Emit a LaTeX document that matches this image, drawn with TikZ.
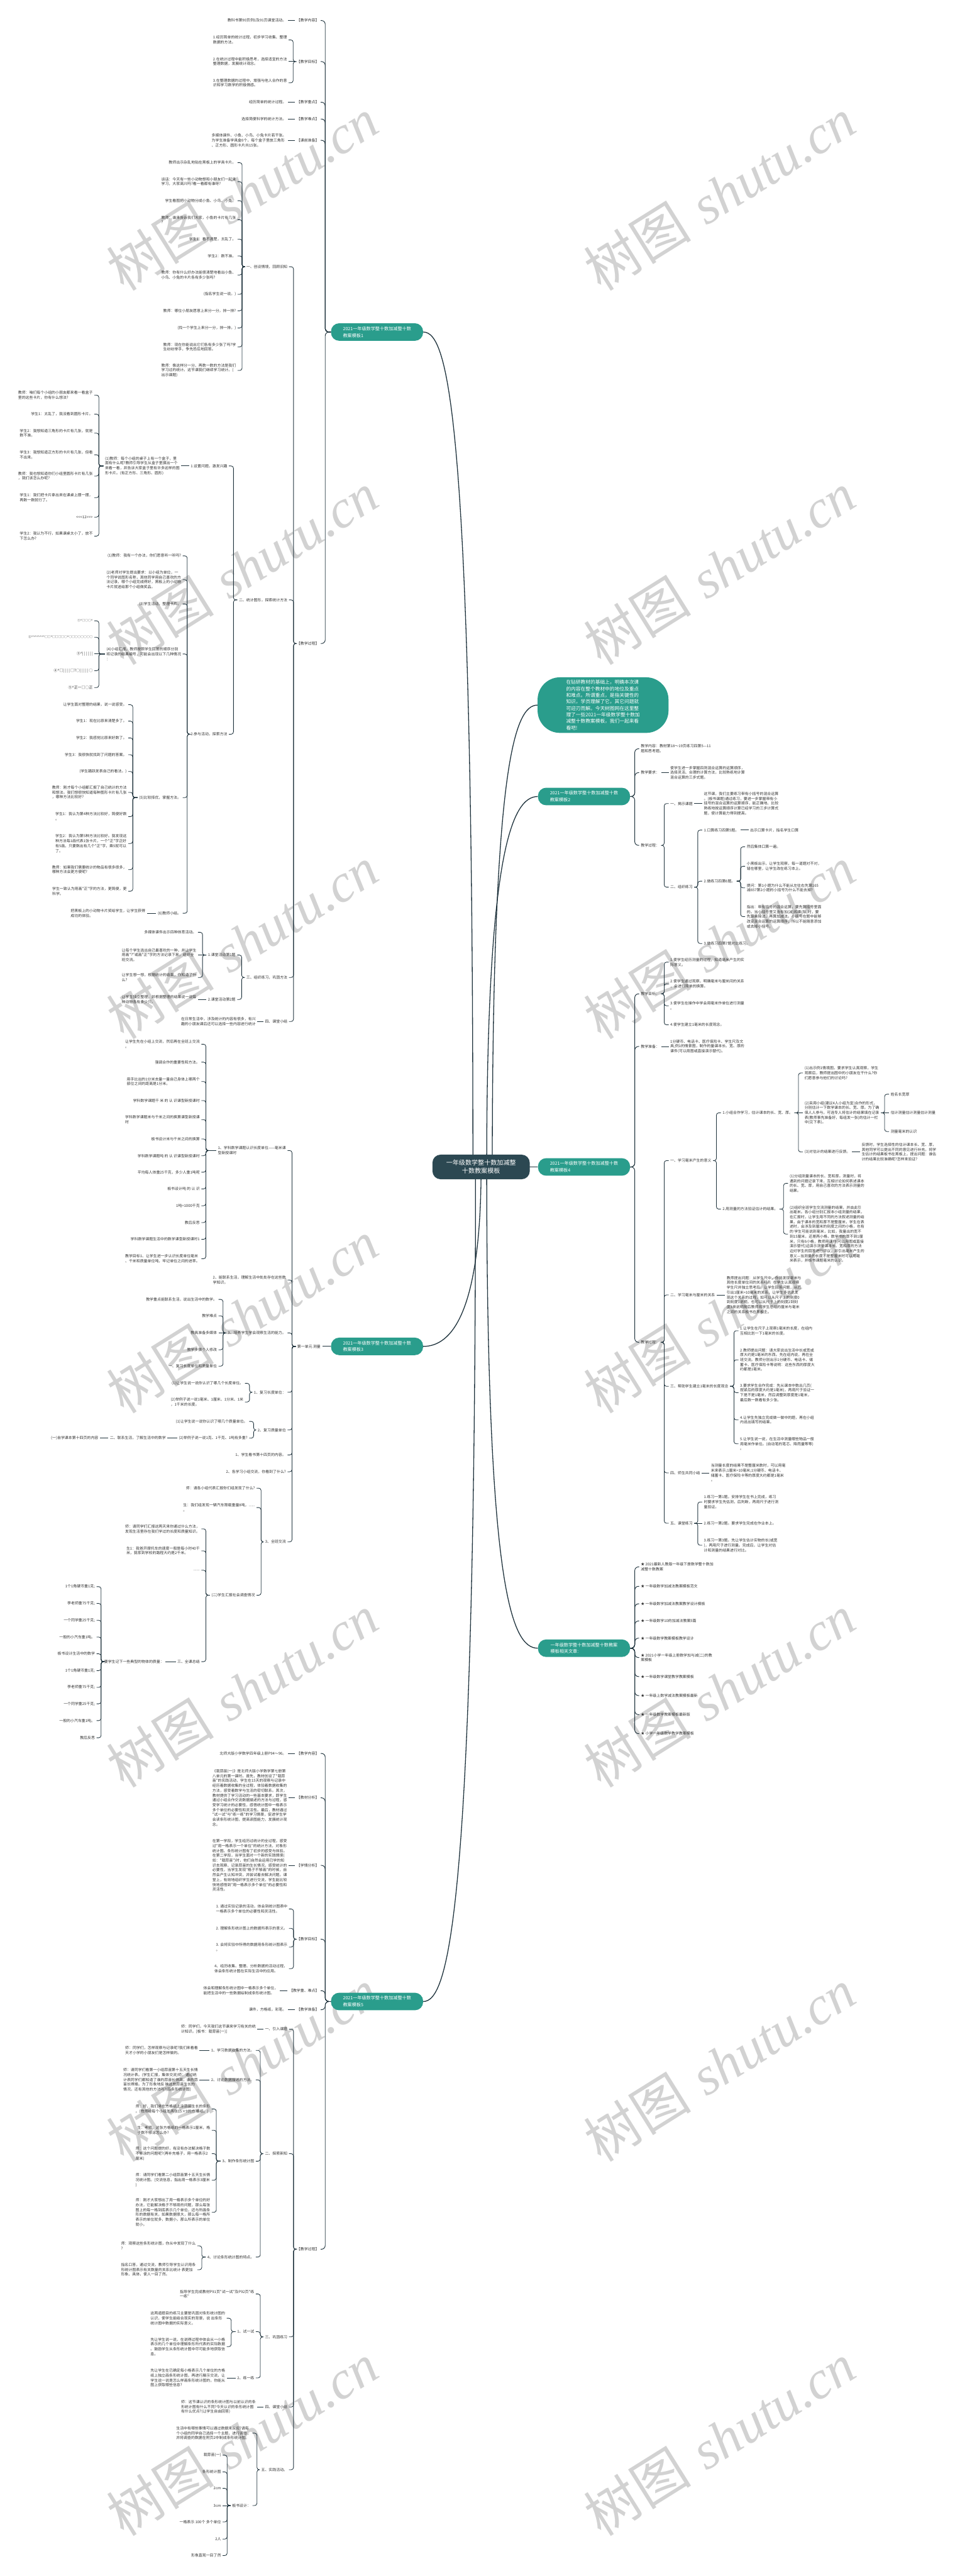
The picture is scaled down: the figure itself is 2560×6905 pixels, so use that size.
\documentclass[tikz,border=0pt]{standalone}
\usepackage{fontspec}
\newfontfamily\cjk{Noto Sans CJK SC}
\newfontfamily\wmserif{Liberation Serif}
\definecolor{teal1}{RGB}{42,157,140}
\definecolor{dark1}{RGB}{44,72,82}
\definecolor{linec}{RGB}{30,50,60}
\definecolor{txtc}{RGB}{51,51,51}
\definecolor{wmc}{RGB}{210,210,210}
\pgfdeclarelayer{bg}
\pgfsetlayers{bg,main}
\tikzset{
  tx/.style={font=\cjk\fontsize{5}{6.5}\selectfont, text=txtc, align=left, inner xsep=2pt, inner ysep=1pt},
  lnk/.style={draw=linec, line width=0.7pt, rounded corners=3pt},
  lnkb/.style={draw=linec, line width=0.8pt, rounded corners=5pt},
  mainlnk/.style={draw=linec, line width=1.1pt},
  brbox/.style={fill=teal1, text=white, font=\cjk\fontsize{6}{9}\selectfont, align=left, rounded corners=11pt, minimum width=123.5pt, minimum height=23.5pt, inner sep=0pt},
  wm/.style={text=wmc, rotate=32, font=\fontsize{72}{72}\selectfont},
}
\newcommand\mmca{\textasciicircum}
\newcommand\mmL[5]{\node[tx,anchor=east] (#1) at (#3,#4) {#5};\draw[lnk] (#2.west) -| ([xshift=6pt]#1.east) -- (#1.east);}
\newcommand\mmLS[5]{\node[tx,anchor=east] (#1) at (#3,#4) {#5};\draw[lnk] (#2.west) -- (#1.east);}
\newcommand\mmLB[5]{\node[tx,anchor=east] (#1) at (#3,#4) {#5};\draw[lnkb] (#2.west) -| ([xshift=6pt]#1.east) -- (#1.east);}
\newcommand\mmR[5]{\node[tx,anchor=west] (#1) at (#3,#4) {#5};\draw[lnk] (#2.east) -| ([xshift=-6pt]#1.west) -- (#1.west);}
\newcommand\mmRS[5]{\node[tx,anchor=west] (#1) at (#3,#4) {#5};\draw[lnk] (#2.east) -- (#1.west);}
\newcommand\mmRB[5]{\node[tx,anchor=west] (#1) at (#3,#4) {#5};\draw[lnkb] (#2.east) -| ([xshift=-6pt]#1.west) -- (#1.west);}
\begin{document}
\begin{tikzpicture}[x=0.5pt,y=-0.5pt]
\begin{pgfonlayer}{bg}
\fill[white] (0,0) rectangle (2560,6905);
\foreach \yy in {520,1523,2526,3529,4532,5535,6538}{
  \node[wm] at (650,\yy) {{\cjk 树图} {\wmserif\itshape shutu.cn}};
  \node[wm] at (1930,\yy) {{\cjk 树图} {\wmserif\itshape shutu.cn}};
}
\end{pgfonlayer}
\useasboundingbox (0,0) rectangle (2560,6905);

% central and branches
\node[fill=dark1, text=white, font=\cjk\fontsize{8.5}{11}\selectfont, align=center, rounded corners=11pt, minimum width=130.5pt, minimum height=33pt, inner sep=0pt] (cn) at (1290,3128) {一年级数学整十数加减整\\十数教案模板};
\node[brbox] (B1) at (1011,890) {2021一年级数学整十数加减整十数\\教案模板1};
\node[brbox] (B3) at (1011,3609) {2021一年级数学整十数加减整十数\\教案模板3};
\node[brbox] (B5) at (1011,5365) {2021一年级数学整十数加减整十数\\教案模板5};
\node[brbox] (B2) at (1566,2135) {2021一年级数学整十数加减整十数\\教案模板2};
\node[brbox] (B4) at (1566,3128) {2021一年级数学整十数加减整十数\\教案模板4};
\node[brbox] (B6) at (1566,4418) {一年级数学整十数加减整十数教案\\模板相关文章:};
\node[fill=teal1, text=white, font=\cjk\fontsize{6.5}{8.7}\selectfont, align=left, rounded corners=30pt, minimum width=175.5pt, minimum height=74.5pt, inner sep=0pt] (T) at (1617,1890) {在钻研教材的基础上，明确本次课\\的内容在整个教材中的地位及重点\\和难点。所谓重点，是指关键性的\\知识，学员理解了它，其它问题就\\可迎刃而解。今天树图网在这里整\\理了一些2021一年级数学整十数加\\减整十数教案模板，我们一起来看\\看吧!};

% ===== Branch 1 =====
\mmLB{a1}{B1}{860}{55}{【教学内容】}
\mmLB{a2}{B1}{860}{165}{【教学目标】}
\mmLB{a3}{B1}{860}{274}{【教学重点】}
\mmLB{a4}{B1}{860}{319}{【教学难点】}
\mmLB{a5}{B1}{860}{376}{【课前准备】}
\mmLB{a6}{B1}{860}{1725}{【教学过程】}
\mmLS{a1c}{a1}{772}{55}{教科书第90页例1及91页课堂活动。}
\mmL{a2c1}{a2}{774}{107}{1.经历简单的统计过程，初步学习收集、整理\\数据的方法。}
\mmLS{a2c2}{a2}{774}{165}{2.在统计过程中能积极思考，选择适宜的方法\\整理数据，发展统计观念。}
\mmL{a2c3}{a2}{774}{222}{3.在整理数据的过程中，增强与他人合作的意\\识和学习数学的积极情感。}
\mmLS{a3c}{a3}{772}{274}{经历简单的统计过程。}
\mmLS{a4c}{a4}{772}{319}{选择简便科学的统计方法。}
\mmLS{a5c}{a5}{772}{376}{多媒体课件、小鱼、小鸟、小兔卡片若干张。\\为学生准备学具盒6个，每个盒子里放三角形\\、正方形、圆形卡片共15张。}
\mmL{p1}{a6}{775}{715}{一、创设情境，回顾旧知}
\mmL{p2}{a6}{775}{1608}{二、统计图形，探索统计方法}
\mmL{p3}{a6}{775}{2620}{三、组织练习，巩固方法}
\mmL{p4}{a6}{775}{2738}{四、课堂小结}
\mmL{p1c1}{p1}{637}{436}{教师出示杂乱地贴在黑板上的学具卡片。}
\mmL{p1c2}{p1}{637}{487}{谈话：今天有一些小动物想和小朋友们一起来\\学习，大家高兴吗?看一看都有谁呀?}
\mmL{p1c3}{p1}{637}{538}{学生看图把小动物分成小鱼、小鸟、小兔。}
\mmL{p1c4}{p1}{637}{589}{教师：谁来告诉我们大家，小鱼的卡片有几张\\?}
\mmL{p1c5}{p1}{637}{641}{学生1：看不清楚，太乱了。}
\mmL{p1c6}{p1}{637}{686}{学生2：数不准。}
\mmL{p1c7}{p1}{637}{737}{教师：你有什么好办法能很清楚地看出小鱼、\\小鸟、小兔的卡片各有多少张吗?}
\mmL{p1c8}{p1}{637}{789}{(指名学生说一说。)}
\mmL{p1c9}{p1}{637}{833}{教师：哪位小朋友愿意上来分一分，排一排?}
\mmL{p1c10}{p1}{637}{879}{(找一个学生上来分一分，排一排。)}
\mmL{p1c11}{p1}{637}{930}{教师：现在你能说出它们各有多少张了吗?学\\生纷纷举手，争先恐后地回答。}
\mmL{p1c12}{p1}{637}{993}{教师：像这样分一分、再数一数的方法是我们\\学习过的统计。这节课我们继续学习统计。(\\出示课题)}
\mmL{q1}{p2}{614}{1249}{1.设置问题，激发兴趣}
\mmL{q2}{p2}{614}{1968}{2.参与活动，探索方法}
\mmLS{q1a}{q1}{486}{1249}{(1)教师：每个小组的桌子上有一个盒子，里\\面有什么呢?教师引导学生从盒子里摸出一个\\来看一看，并告诉大家盒子里有许多这样的图\\形卡片。(有正方形、三角形、圆形)}
\mmL{q1a1}{q1a}{253}{1059}{教师：咱们每个小组的小朋友都来看一看盒子\\里的这些卡片，你有什么想法?}
\mmL{q1a2}{q1a}{253}{1110}{学生1：太乱了，我没看到圆形卡片。}
\mmL{q1a3}{q1a}{253}{1161}{学生2：我想知道三角形的卡片有几张，就是\\数不准。}
\mmL{q1a4}{q1a}{253}{1219}{学生3：我想知道正方形的卡片有几张，但看\\不出来。}
\mmL{q1a5}{q1a}{253}{1276}{教师：我也想知道你们小组里圆形卡片有几张\\，我们该怎么办呢?}
\mmL{q1a6}{q1a}{253}{1334}{学生1：我们把卡片拿出来在课桌上摆一摆，\\再数一数就行了。}
\mmL{q1a7}{q1a}{253}{1386}{<<<12>>>}
\mmL{q1a8}{q1a}{253}{1437}{学生2：我认为不行，如果课桌太小了，放不\\下怎么办?}
\mmL{r1}{q2}{490}{1490}{(1)教师：我有一个办法，你们愿意听一听吗?}
\mmL{r2}{q2}{490}{1554}{(2)老师对学生提出要求：以小组为单位，一\\个同学说图形名称，其他同学用自己喜欢的方\\法记录，哪个小组完成得好，黑板上的小动物\\卡片就送给那个小组做奖品。}
\mmL{r3}{q2}{490}{1619}{(3)学生活动，整理卡片。}
\mmL{r4}{q2}{490}{1753}{(4)小组汇报，教师按照学生回答的顺序分别\\将记录的结果编号，可能会出现以下几种情况\\：}
\mmL{r5}{q2}{490}{2138}{(5)比较择优，掌握方法。}
\mmL{r6}{q2}{490}{2448}{(6)教师小结。}
\mmL{r4c1}{r4}{253}{1664}{{\fontsize{4}{5}\selectfont ①\mmca{}□○○\mmca{}}}
\mmL{r4c2}{r4}{253}{1708}{{\fontsize{4}{5}\selectfont ②\mmca{}\mmca{}\mmca{}\mmca{}\mmca{}\mmca{}\mmca{}\mmca{}□□\mmca{}□□□□○\mmca{}○□○○○○○○}}
\mmLS{r4c3}{r4}{253}{1753}{③\mmca{}| | | | | |}
\mmL{r4c4}{r4}{253}{1798}{④\mmca{}□| | | | □?○| | | | | ○}
\mmL{r4c5}{r4}{253}{1843}{⑤\mmca{}正一□○正}
\mmL{r5c1}{r5}{344}{1889}{让学生面对整理的结果，说一说感受。}
\mmL{r5c2}{r5}{344}{1933}{学生1：现在比原来清楚多了。}
\mmL{r5c3}{r5}{344}{1978}{学生2：我感觉比原来好数了。}
\mmL{r5c4}{r5}{344}{2023}{学生3：我很快就找到了问题的答案。}
\mmL{r5c5}{r5}{344}{2068}{(学生踊跃发表自己的看法。)}
\mmL{r5c6}{r5}{344}{2124}{教师：刚才每个小组都汇报了自己统计的方法\\和想法。我们想很快知道每种图形卡片有几张\\，哪种方法比较好?}
\mmL{r5c7}{r5}{344}{2189}{学生1：我认为第4种方法比较好，简便好数\\。}
\mmL{r5c8}{r5}{344}{2261}{学生2：我认为第5种方法比较好。我发现这\\种方法每1画代表1张卡片，一个"正"字正好\\有5画，只要数出有几个"正"字，乘5就可以\\了。}
\mmL{r5c9}{r5}{344}{2331}{教师：如果我们需要统计的物品有很多很多，\\哪种方法会更方便呢?}
\mmL{r5c10}{r5}{344}{2389}{学生一致认为用画"正"字的方法，更简便，更\\科学。}
\mmLS{r6c}{r6}{394}{2448}{把黑板上的小动物卡片奖给学生，让学生获得\\成功的体验。}
\mmL{s1}{p3}{636}{2560}{1.课堂活动第1题}
\mmL{s2}{p3}{636}{2679}{2.课堂活动第2题}
\mmL{s1c1}{s1}{531}{2499}{多媒体课件出示四种体育活动。}
\mmLS{s1c2}{s1}{531}{2560}{让每个学生选出自己最喜欢的一种，并让学生\\用画"?"或画"正"字的方法记录下来，组织全\\班交流。}
\mmL{s1c3}{s1}{531}{2620}{让学生想一想，根据统计的结果，你知道了什\\么?}
\mmLS{s2c}{s2}{531}{2679}{让学生独立整理，并根据整理的结果说一说每\\种动物各有多少只。}
\mmLS{p4c}{p4}{690}{2738}{在日常生活中，涉及统计的内容有很多，有兴\\趣的小朋友课后还可以选择一些内容进行统计}

% ===== Branch 3 =====
\node[tx,anchor=east] (t) at (864,3609) {第一单元 测量};
\draw[lnkb] (B3.west) -- (t.east);
\mmL{u1}{t}{771}{3084}{1、学科数学课题认识长度单位——毫米课\\型新授课时}
\mmL{u2}{t}{771}{3431}{2、能联系生活，理解生活中处处存在这些数\\学知识。}
\mmL{u3}{t}{771}{3573}{3、培养学生学会观察生活的能力。}
\mmL{u4}{t}{771}{3732}{1、复习长度单位：}
\mmL{u5}{t}{771}{3833}{2、复习质量单位}
\mmL{u6}{t}{771}{3900}{1、学生看书第十四页的内容。}
\mmL{u7}{t}{771}{3945}{2、各学习小组交流，你看到了什么?}
\mmL{u8}{t}{771}{4133}{3、全班交流}
\mmL{u1c1}{u1}{540}{2799}{让学生先在小组上交流，然后再在全班上交流\\。}
\mmL{u1c2}{u1}{540}{2847}{强调合作的重要性和方法。}
\mmL{u1c3}{u1}{540}{2899}{用手比出的1分米去量一量自己身体上哪两个\\部位之间的距离是1分米。}
\mmL{u1c4}{u1}{540}{2950}{学科数学课题千 米 的 认 识课型新授课时}
\mmL{u1c5}{u1}{540}{3001}{学科数学课题米与千米之间的换算课型新授课\\时}
\mmL{u1c6}{u1}{540}{3053}{板书设计米与千米之间的换算}
\mmL{u1c7}{u1}{540}{3098}{学科数学课题吨 的 认 识课型新授课时}
\mmL{u1c8}{u1}{540}{3142}{平均每人体重25千克，多少人重1吨呢}
\mmL{u1c9}{u1}{540}{3187}{板书设计吨 的 认 识}
\mmL{u1c10}{u1}{540}{3232}{1吨=1000千克}
\mmL{u1c11}{u1}{540}{3277}{教后反思}
\mmL{u1c12}{u1}{540}{3322}{学科数学课题生活中的数学课型新授课时1}
\mmL{u1c13}{u1}{540}{3374}{教学目标1、让学生进一步认识长度单位毫米\\、千米和质量单位吨，牢记单位之间的进率。}
\mmL{u3c1}{u3}{586}{3483}{教学重点能联系生活，说出生活中的数学。}
\mmL{u3c2}{u3}{586}{3527}{教学难点}
\mmLS{u3c3}{u3}{586}{3573}{教具准备多媒体}
\mmL{u3c4}{u3}{586}{3618}{教学步骤个人修改}
\mmL{u3c5}{u3}{586}{3662}{一、复习长度单位和质量单位}
\mmL{u4c1}{u4}{657}{3708}{(1)让学生说一说你认识了哪几个长度单位。}
\mmL{u4c2}{u4}{657}{3758}{(2)举例子说一说1毫米、1厘米、1分米、1米\\，1千米的长度。}
\mmL{u5c1}{u5}{668}{3810}{(1)让学生说一说你认识了哪几个质量单位。}
\mmL{u5c2}{u5}{668}{3855}{(2)举例子说一说1克、1千克、1吨有多重?}
\mmLS{v1}{u5c2}{449}{3855}{二、联系生活，了解生活中的数学}
\mmLS{v2}{v1}{268}{3855}{(一)自学课本第十四页的内容}
\mmL{u8c1}{u8}{688}{3989}{师：请各小组代表汇报你们组发现了什么?}
\mmL{u8c2}{u8}{688}{4041}{生：我们组发现一辆汽车限载重量8吨，......\\。}
\mmL{u8c3}{u8}{688}{4276}{(二)学生汇报社会调查情况}
\mmL{w1}{u8c3}{540}{4098}{师：请同学们汇报这两天来你通过什么方法，\\发现生活里存在我们学过的长度和质量知识。}
\mmL{w2}{u8c3}{540}{4157}{生1：我爸开摩托车的速度一般是每小时40千\\米，我家到学校的路程大约是2千米。}
\mmL{w3}{u8c3}{540}{4209}{......}
\mmL{w4}{u8c3}{540}{4454}{三、全课总结}
\mmLS{x1}{w4}{444}{4454}{要学生记下一些典型的物体的质量：}
\mmL{x1c1}{x1}{259}{4253}{1个1角硬币重1克;}
\mmL{x1c2}{x1}{259}{4298}{李老师重75千克;}
\mmL{x1c3}{x1}{259}{4343}{一个同学重25千克;}
\mmL{x1c4}{x1}{259}{4388}{一般的小汽车重1吨。}
\mmL{x1c5}{x1}{259}{4433}{板书设计生活中的数学}
\mmL{x1c6}{x1}{259}{4478}{1个1角硬币重1克;}
\mmL{x1c7}{x1}{259}{4523}{李老师重75千克;}
\mmL{x1c8}{x1}{259}{4567}{一个同学重25千克;}
\mmL{x1c9}{x1}{259}{4612}{一般的小汽车重1吨。}
\mmL{x1c10}{x1}{259}{4658}{教后反思}

% ===== Branch 5 =====
\mmLB{e1}{B5}{860}{4700}{【教学内容】}
\mmLB{e2}{B5}{860}{4819}{【教材分析】}
\mmLB{e3}{B5}{860}{5000}{【学情分析】}
\mmLB{e4}{B5}{860}{5198}{【教学目标】}
\mmLB{e5}{B5}{860}{5336}{【教学重、难点】}
\mmLB{e6}{B5}{860}{5387}{【教学准备】}
\mmLB{e7}{B5}{860}{6029}{【教学过程】}
\mmLS{e1c}{e1}{772}{4700}{北师大版小学数学四年级上册P94～96。}
\mmLS{e2c}{e2}{774}{4819}{《栽蒜苗(一)》是北师大版小学数学第七册第\\八单元的第一课时。首先，教材创设了"栽蒜\\苗"的实践活动，学生在15天的观察与记录中\\经历着数据收集的全过程，体验着数据收集的\\方法，感受着数学与生活的密切联系。其次，\\教材提供了学习活动的一些基本要求，即学生\\通过小组合作交流数据描述的方法与过程，感\\受学习统计的必要性，感悟统计图中一格表示\\多个单位的必要性和灵活性。最后，教材通过\\"试一试"与"练一练"的学习情景，促进学生学\\会读条形统计图，提高读图能力，发展统计观\\念。}
\mmLS{e3c}{e3}{774}{5000}{在第一学段，学生经历过统计的全过程，感受\\过"用一格表示一个单位"的统计方法，对象形\\统计图、条形统计图有了初步的感受与体验。\\在第二学段，当学生面对一个新的实践情境(\\如："栽蒜苗")时，他们自然会运用已学的知\\识去观察、记录蒜苗的生长情况，感受统计的\\必要性，当学生发现"格子不够画"的时候，自\\然会产生认知冲突，并尝试着去解决问题。课\\堂上，有效地组织学生进行交流，学生能比较\\快地感悟到"用一格表示多个单位"的必要性和\\灵活性。}
\mmL{e4c1}{e4}{775}{5117}{1. 通过实验记录的活动，体会到统计图表中\\一格表示多个单位的必要性和灵活性。}
\mmL{e4c2}{e4}{775}{5169}{2. 理解条形统计图上的数据所表示的意义。}
\mmL{e4c3}{e4}{775}{5219}{3. 会将实验中所得的数据用条形统计图表示\\。}
\mmL{e4c4}{e4}{775}{5277}{4、经历收集、整理、分析数据的活动过程，\\体会条形统计图在实际生活中的应用。}
\mmLS{e5c}{e5}{750}{5336}{体会和理解条形统计图中一格表示多个单位，\\能把生活中的一些数据绘制成条形统计图。}
\mmLS{e6c}{e6}{772}{5387}{课件，方格纸，彩笔。}
\mmL{f1}{e7}{775}{5439}{一、引入课题}
\mmL{f2}{e7}{775}{5773}{二、探索新知}
\mmL{f3}{e7}{775}{6264}{三、巩固练习}
\mmL{f4}{e7}{775}{6452}{四、课堂小结}
\mmL{f5}{e7}{775}{6620}{五、实践活动。}
\mmLS{f1c}{f1}{690}{5439}{师：同学们，今天我们这节课来学习有关的统\\计知识。[板书：栽蒜苗(一)]}
\mmL{g1}{f2}{686}{5496}{1、学习数据收集的方法。}
\mmL{g2}{f2}{686}{5575}{2、讨论数据描述的方法。}
\mmL{g3}{f2}{686}{5793}{3、制作条形统计图}
\mmL{g4}{f2}{686}{6050}{4、讨论条形统计图的特点。}
\mmLS{g1c}{g1}{535}{5496}{师：同学们，怎样观察与记录呢?我们来看看\\天才小学的小朋友们是怎样做的。}
\mmLS{g2c}{g2}{535}{5575}{师：请同学们看第一小组蒜苗第十五天生长情\\况统计表。(学生汇报，集体交流)师：通过统\\计表同学们都知道了谁的蒜苗长得高，谁的蒜\\苗长得矮。为了形象地反 映这些蒜苗生长的\\情况，还有其他的方法吗?(画条形统计图)}
\mmL{g3c1}{g3}{568}{5653}{师：好，我们来在方格纸上涂蒜苗生长的条形\\。(教师给每个小组发两张15×9的方 格纸。)}
\mmL{g3c2}{g3}{568}{5710}{生：老师，这张方格纸的一格表示1厘米，格\\子数不够涂怎么办?}
\mmL{g3c3}{g3}{568}{5773}{师：这个问题提的好，有没有办法解决格子数\\不够涂的问题呢?(再补充格子，用一格表示2\\厘米)}
\mmL{g3c4}{g3}{568}{5844}{师：请同学们看第二小组蒜苗第十五天生长情\\况统计图。(交流信息，指出用一格表示3厘米\\)}
\mmL{g3c5}{g3}{568}{5930}{师：刚才大家想出了用一格表示多个单位的好\\办法，它能解决格子不够用的问题，那么每张\\图上的每一格到底表示几个单位，还与所画条\\形的数据有关，如果数据很大，那么每一格所\\表示的单位就多，数据小，那么所表示的单位\\就小。}
\mmL{g4c1}{g4}{529}{6020}{师：观察这些条形统计图，你从中发现了什么\\?}
\mmL{g4c2}{g4}{529}{6084}{指名口答，通过交流，教师引导学生认识用条\\形统计图表示有关数量的关系比统计 表更加\\形象、具体，使人一目了然。}
\mmL{h1}{f3}{686}{6149}{指导学生完成教材P91页"试一试"及P92页"练\\一练"}
\mmL{h2}{f3}{686}{6250}{1、试一试}
\mmL{h3}{f3}{686}{6374}{2、练一练}
\mmL{h2c1}{h2}{608}{6214}{这两道题目的练习主要是巩固对条形统计图的\\认识，使学生能结合现实的背景，说 出条形\\统计图中数据的实际意义。}
\mmL{h2c2}{h2}{608}{6290}{先让学生说一说，在说得过程中体会从一小格\\表示的几个单位中理解条形所代表的实际数据\\。鼓励学生从条形统计图中尽可能多地获取信\\息。}
\mmLS{h3c}{h3}{608}{6374}{先让学生在已确定每小格表示几个单位的方格\\纸上独立画条形统计图，再进行展示交流，让\\学生说一说是怎么样画条形统计图的，你能从\\图上获取哪些信息?}
\mmLS{f4c}{f4}{690}{6452}{师：这节课认识的条形统计图与以前认识的条\\形统计图有什么不同?今天认识的条形统计图\\有什么优点?(让学生自由回答)}
\mmL{k1}{f5}{677}{6522}{生活中有哪些事情可以通过数据来反应?请每\\个小组的同学自己选择一个主题，进行调查，\\并将调查的数据在附页2中制成条形统计图。}
\mmL{k2}{f5}{677}{6716}{板书设计：}
\mmL{k2c1}{k2}{597}{6581}{栽蒜苗(一)}
\mmL{k2c2}{k2}{597}{6626}{条形统计图}
\mmL{k2c3}{k2}{597}{6670}{2cm}
\mmLS{k2c4}{k2}{597}{6716}{3cm}
\mmL{k2c5}{k2}{597}{6760}{一格表示 100个 多个单位}
\mmL{k2c6}{k2}{597}{6806}{2人}
\mmL{k2c7}{k2}{597}{6850}{形象直观一目了然}

% ===== Branch 2 =====
\mmRB{m1}{B2}{1714}{2007}{教学内容：教材第18～19页练习四第5—11\\题和思考题。}
\mmRB{m2}{B2}{1714}{2071}{教学要求：}
\mmRB{m3}{B2}{1714}{2266}{教学过程：}
\mmRS{m2c}{m2}{1793}{2071}{使学生进一步掌握四则混合运算的运算顺序，\\选择灵活、合理的计算方法，比较熟练地计算\\混合运算的三步式题。}
\mmR{n1}{m3}{1793}{2154}{一、揭示课题}
\mmR{n2}{m3}{1793}{2378}{二、组织练习}
\mmRS{n1c}{n1}{1883}{2154}{这节课，我们主要练习带有小括号的混合运算\\。(板书课题)通过练习，要进一步掌握带有小\\括号的混合运算的运算顺序，能正确地、比较\\熟练地按运算顺序计算已经学习的三步计算式\\题，使计算能力得到提高。}
\mmR{o1}{n2}{1883}{2225}{1.口算练习四第5题。}
\mmR{o2}{n2}{1883}{2362}{2.做练习四第6题。}
\mmR{o3}{n2}{1883}{2529}{3.做练习四第7题对比练习。}
\mmRS{o1c}{o1}{2007}{2225}{出示口算卡片，指名学生口算}
\mmR{o2c1}{o2}{1998}{2270}{然后集体口算一遍。}
\mmR{o2c2}{o2}{1998}{2322}{小黑板出示，让学生观察，每一道题对不对，\\错在哪里，让学生改在练习本上。}
\mmR{o2c3}{o2}{1998}{2380}{提问：第1小题为什么不能从左往右先算165\\减657第2小题的小括号为什么不能去掉?}
\mmR{o2c4}{o2}{1998}{2457}{指出：带有括号的混合运算，要先算括号里面\\的。当小括号里又含有加(减)和乘(除)时，要\\先算乘除法，再算加减法。小括号在题中能够\\改变混合运算的运算顺序，所以不能随意添加\\或去掉小括号。}

% ===== Branch 4 =====
\mmRB{y1}{B4}{1714}{2664}{教学目标：}
\mmRB{y2}{B4}{1714}{2805}{教学准备：}
\mmRB{y3}{B4}{1714}{3598}{教学过程：}
\mmR{y1c1}{y1}{1793}{2579}{1.使学生经历测量的过程，知道毫米产生的实\\际意义。}
\mmR{y1c2}{y1}{1793}{2637}{2.使学生通过观察，明确毫米与厘米间的关系\\，会进行简单的换算。}
\mmR{y1c3}{y1}{1793}{2696}{3.使学生在操作中学会用毫米作单位进行测量\\。}
\mmR{y1c4}{y1}{1793}{2747}{4.使学生建立1毫米的长度观念。}
\mmRS{y2c}{y2}{1793}{2805}{1分硬币、电话卡、医疗保险卡、学生尺及文\\具;例1的情景图，制作的量课本长、宽、厚的\\课件(可以用图或直接演示替代)。}
\mmR{z1}{y3}{1793}{3111}{一、学习毫米产生的意义}
\mmR{z2}{y3}{1793}{3471}{二、学习毫米与厘米的关系}
\mmR{z3}{y3}{1793}{3716}{三、帮助学生建立1毫米的长度观念}
\mmR{z4}{y3}{1793}{3948}{四、师生共同小结}
\mmR{z5}{y3}{1793}{4083}{五、课堂练习}
\mmR{aa1}{z1}{1933}{2983}{1.小组合作学习，估计课本的长、宽、厚。}
\mmR{aa2}{z1}{1933}{3241}{2.用测量的方法验证估计的结果。}
\mmR{bb1}{aa1}{2153}{2876}{(1)出示例1情境图，要求学生认真观察，学生\\观察后，教师提出图中的小朋友在干什么?你\\们愿意参与他们的讨论吗?}
\mmRS{bb2}{aa1}{2153}{2983}{(2)采用小组(建议4人小组为宜)合作的形式，\\分别估计一下数学课本的长、宽、厚。为了确\\保人人参与，可选专人将估计的结果填在记录\\表(教师事先准备好，每组发一张)的估计一栏\\中(见下表)。}
\mmR{bb3}{aa1}{2153}{3088}{(3)对估计的结果进行反馈。}
\mmR{bb2c1}{bb2}{2384}{2933}{姓名长宽厚}
\mmRS{bb2c2}{bb2}{2384}{2983}{估计测量估计测量估计测量}
\mmR{bb2c3}{bb2}{2384}{3033}{测量毫米的认识}
\mmRS{bb3c}{bb3}{2306}{3088}{反馈时，学生选择性的估计课本长、宽、厚，\\其他同学可以提出不同的意见进行补充。将学\\生估计的结果板书在黑板上，提出问题：谁估\\计的结果比较准确呢?怎样来验证?}
\mmR{aa2c1}{aa2}{2113}{3172}{(1)分组测量课本的长、宽和厚。测量时，将\\遇到的问题记录下来，互相讨论如何表述课本\\的长、宽、厚，用自己喜欢的方法表示测量的\\结果。}
\mmR{aa2c2}{aa2}{2113}{3308}{(2)组织全班学生交流测量的结果，并由此引\\出毫米。各小组分别汇报本小组测量的结果，\\在汇报时，让学生用不同的方法叙述测量的结\\果，由于课本的宽和厚不是整厘米，学生在表\\述时，会涉及到厘米的刻度之间的小格，也有\\的 学生可能说到毫米，比如，我量出的宽不\\到15厘米，还差两小格，数学书的厚不到1厘\\米，只有6小格，教师用课件(可以用图或直接\\演示替代)边演示测量课本长、宽和厚的方法\\边对学生的回答进行评议，并引出毫米产生的\\意义—当测量的长度不是整厘米时可以用毫\\米表示，并板书课题毫米的认识。}
\mmRS{z2c}{z2}{1944}{3471}{教师提出问题：从学生尺中，你能发现毫米与\\其他长度单位间的关系吗?。在学生认真观察\\学生尺并独立思考后，让学生回答问题，从而\\引出1厘米=10毫米的关系，让学生多说说发\\现这个关系的过程，如可以从尺子上的刻度0\\到刻度1说明，也可以从尺子上的刻度2到刻\\度3来说明随后教师将学生总结的厘米与毫米\\之间的关系板书在黑板上。}
\mmR{z3c1}{z3}{1980}{3567}{1.让学生在尺子上观察1毫米的长度，在组内\\互相比划一下1毫米的长度。}
\mmR{z3c2}{z3}{1980}{3645}{2.教师提出问题：请大家说出生活中长或宽或\\厚大约是1毫米的东西。先在组内说，再在全\\班交流。教师分别出示1分硬币、电话卡、储\\蓄卡、医疗保险卡等说明：这些东西的厚度大\\约都是1毫米。}
\mmR{z3c3}{z3}{1980}{3733}{3.要求学生合作完成：先从课本中数出几页(\\捏紧后的厚度大约是1毫米)，再用尺子验证一\\下是不是1毫米，然后调整到厚度是1毫米，\\最后数一数看有多少张。}
\mmR{z3c4}{z3}{1980}{3806}{4.让学生先独立完成做一做中的题，再在小组\\内说出填写的结果。}
\mmR{z3c5}{z3}{1980}{3870}{5.让学生说一说，在生活中测量哪些物品一般\\用毫米作单位。(自动笔的笔芯、降雨量等等)\\。}
\mmRS{z4c}{z4}{1902}{3948}{当测量长度的结果不是整厘米数时，可以用毫\\米来表示;1厘米=10毫米;1分硬币、电话卡、\\储蓄卡、医疗保险卡等的厚度大约都是1毫米\\。}
\mmR{z5c1}{z5}{1883}{4026}{1.练习一第1题。安排学生在书上完成，练习\\时要求学生先估测，后判断，再用尺子进行测\\量验证。}
\mmRS{z5c2}{z5}{1883}{4083}{2.练习一第2题。要求学生完成在作业本上。}
\mmR{z5c3}{z5}{1883}{4142}{3.练习一第3题。先让学生估计实物的长(或宽\\)，再用尺子进行测量。完成后，让学生对估\\计和测量的结果进行对比。}

% ===== Branch 6 =====
\mmRB{l1}{B6}{1714}{4200}{★ 2021最新人教版一年级下册数学整十数加\\减整十数教案}
\mmRB{l2}{B6}{1714}{4252}{★ 一年级数学加减法教案模板范文}
\mmRB{l3}{B6}{1714}{4299}{★ 一年级数学加减法教案教学设计模板}
\mmRB{l4}{B6}{1714}{4345}{★ 一年级数学10的加减法教案5篇}
\mmRB{l5}{B6}{1714}{4391}{★ 一年级数学教案模板教学设计}
\mmRB{l6}{B6}{1714}{4443}{★ 2021小学一年级上册数学加与减(二)的教\\案模板}
\mmRB{l7}{B6}{1714}{4494}{★ 一年级数学课堂教学教案模板}
\mmRB{l8}{B6}{1714}{4545}{★ 一年级上数学减法教案模板最新}
\mmRB{l9}{B6}{1714}{4596}{★ 一年级数学教案模板最新版}
\mmRB{l10}{B6}{1714}{4647}{★ 小学一年级数学教学教案模板}

% ===== main connectors =====
\begin{pgfonlayer}{bg}
\draw[mainlnk] (1268,3128) .. controls (1268,1100) and (1200,890) .. (B1.east);
\draw[mainlnk] (1290,3128) .. controls (1290,3520) and (1210,3609) .. (B3.east);
\draw[mainlnk] (1275,3128) .. controls (1275,5150) and (1200,5365) .. (B5.east);
\draw[mainlnk] (1320,3128) .. controls (1320,2050) and (1380,1890) .. (T.west);
\draw[mainlnk] (1305,3128) .. controls (1305,2300) and (1370,2135) .. (B2.west);
\draw[mainlnk] (cn.center) -- (B4.west);
\draw[mainlnk] (1305,3128) .. controls (1305,4250) and (1370,4418) .. (B6.west);
\end{pgfonlayer}
\end{tikzpicture}
\end{document}
